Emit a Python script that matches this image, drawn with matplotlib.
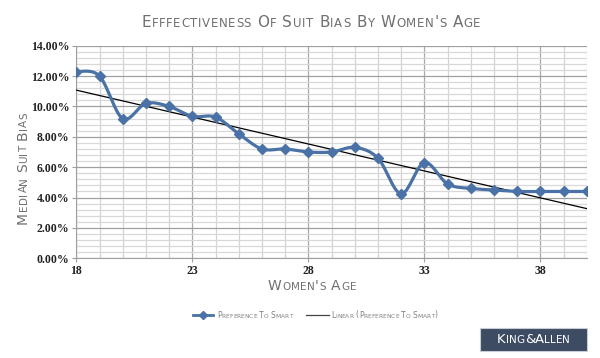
import numpy as np
import matplotlib
matplotlib.use('Agg')
import matplotlib.pyplot as plt
import matplotlib.transforms as mtransforms
from matplotlib.lines import Line2D
from matplotlib.patches import Rectangle

# data (median suit bias in %)
ages = list(range(18, 41))
preference = [12.3, 12.0, 9.2, 10.2, 10.0, 9.35, 9.3, 8.2, 7.2, 7.2, 7.0, 7.0,
              7.3, 6.6, 4.25, 6.3, 4.9, 4.6, 4.5, 4.4, 4.4, 4.4, 4.4]
x_ticks = [18, 23, 28, 33, 38]
y_ticks = [0, 2, 4, 6, 8, 10, 12, 14]

title = "Efffectiveness Of Suit Bias By Women's Age"
x_label = "Women's Age"
y_label = "Median Suit Bias"
series_name = "Preference To Smart"
trend_name = "Linear (Preference To Smart)"

W, H = 600, 358
BLUE = '#4a72a6'
GREY_TXT = '#707070'

fig = plt.figure(figsize=(W / 100, H / 100), dpi=100)
ax = fig.add_axes([76.3 / W, 1 - 258.3 / H, (586.7 - 76.3) / W, (258.3 - 45.7) / H])
renderer = fig.canvas.get_renderer()
pix = mtransforms.IdentityTransform()


def smooth(xs, ys, n=20):
    # excel style smoothed line (bezier through the points)
    xs = np.asarray(xs, float)
    ys = np.asarray(ys, float)
    px, py = [], []
    for i in range(len(xs) - 1):
        i0, i3 = max(i - 1, 0), min(i + 2, len(xs) - 1)
        c1x = xs[i] + (xs[i + 1] - xs[i0]) / 6
        c1y = ys[i] + (ys[i + 1] - ys[i0]) / 6
        c2x = xs[i + 1] - (xs[i3] - xs[i]) / 6
        c2y = ys[i + 1] - (ys[i3] - ys[i]) / 6
        t = np.linspace(0, 1, n)
        b0, b1, b2, b3 = (1 - t) ** 3, 3 * t * (1 - t) ** 2, 3 * t ** 2 * (1 - t), t ** 3
        px.extend(b0 * xs[i] + b1 * c1x + b2 * c2x + b3 * xs[i + 1])
        py.extend(b0 * ys[i] + b1 * c1y + b2 * c2y + b3 * ys[i + 1])
    return px, py


_adv = {}


def advance(ch, size, family):
    key = (ch, size, family)
    if key not in _adv:
        t = fig.text(0, 0, '|' + ch + '|', fontsize=size, family=family)
        w1 = t.get_window_extent(renderer).width
        t.set_text('||')
        w2 = t.get_window_extent(renderer).width
        t.remove()
        _adv[key] = w1 - w2
    return _adv[key]


def smallcaps(x, y, s, big, small, color, rotation=0, family='DejaVu Sans',
              spacing=0.0, align='center'):
    # x, y: baseline position in image pixels (top-left origin)
    chars = []
    for ch in s:
        size = small if ch.islower() else big
        chars.append((ch.upper(), size, advance(ch.upper(), size, family) + spacing))
    total = sum(c[2] for c in chars) - spacing
    start = -total / 2 if align == 'center' else 0
    for ch, size, a in chars:
        if rotation == 90:
            px, py = x, H - y + start
        else:
            px, py = x + start, H - y
        fig.text(px, py, ch, fontsize=size, family=family, color=color,
                 rotation=rotation, rotation_mode='anchor', ha='left',
                 va='baseline', transform=pix)
        start += a
    return total


# grid
for a in ages:
    major = a in x_ticks
    ax.axvline(a, color='#a8a8a8' if major else '#d4d4d4', lw=0.9, zorder=0)
for v in np.arange(0, 14.01, 0.4):
    major = abs(v / 2 - round(v / 2)) < 1e-6
    ax.axhline(v, color='#a0a0a0' if major else '#d8d8d8', lw=0.9, zorder=0)

# trendline
slope, intercept = np.polyfit(ages, preference, 1)
tx = np.array([ages[0], ages[-1]])
ax.plot(tx, slope * tx + intercept, color='black', lw=0.9, zorder=3)

# smoothed series
sx, sy = smooth(ages, preference)
ax.plot(sx, sy, color=BLUE, lw=2.3, zorder=4, solid_capstyle='round')
ax.plot(ages, preference, ls='none', marker='D', ms=5.5, color=BLUE, zorder=5)

ax.set_xlim(18, 40)
ax.set_ylim(0, 14)
ax.set_xticks(x_ticks)
ax.set_yticks(y_ticks)
ax.set_yticklabels([f'{v:.2f}%' for v in y_ticks])
for lab in ax.get_xticklabels() + ax.get_yticklabels():
    lab.set_family('Liberation Serif')
    lab.set_fontweight('bold')
    lab.set_fontsize(8.5)
    lab.set_color('#222222')
ax.tick_params(axis='both', length=3, color='#a0a0a0', pad=2)
for side in ['top', 'right']:
    ax.spines[side].set_visible(False)
ax.spines['left'].set_color('#a0a0a0')
ax.spines['bottom'].set_color('#a0a0a0')
ax.set_facecolor('white')

# texts
smallcaps(311, 27, title, 11, 8.5, GREY_TXT, spacing=0.6)
smallcaps(312, 290, x_label, 10, 7.5, GREY_TXT, spacing=0.4)
smallcaps(27, 168, y_label, 10, 7.5, GREY_TXT, rotation=90, spacing=0.4)

# legend
fig.add_artist(Line2D([193, 213], [H - 315, H - 315], color=BLUE, lw=2.0,
                      transform=pix))
fig.add_artist(Line2D([203], [H - 315], color=BLUE, marker='D', ms=4.5,
                      ls='none', transform=pix))
smallcaps(217, 317.5, series_name, 5.5, 4.2, '#808080', align='left')
fig.add_artist(Line2D([306, 329], [H - 315, H - 315], color='#444444', lw=0.9,
                      transform=pix))
smallcaps(331, 317.5, trend_name, 5.5, 4.2, '#808080', align='left')

# logo
fig.add_artist(Rectangle((480, H - 351), 107, 23, facecolor='#3d4b63',
                         edgecolor='#c8ccd4', lw=0.8, transform=pix))
smallcaps(533.5, 343, 'King&Allen', 9.5, 7.5, 'white')

fig.savefig('out.png', dpi=100, facecolor='white')
